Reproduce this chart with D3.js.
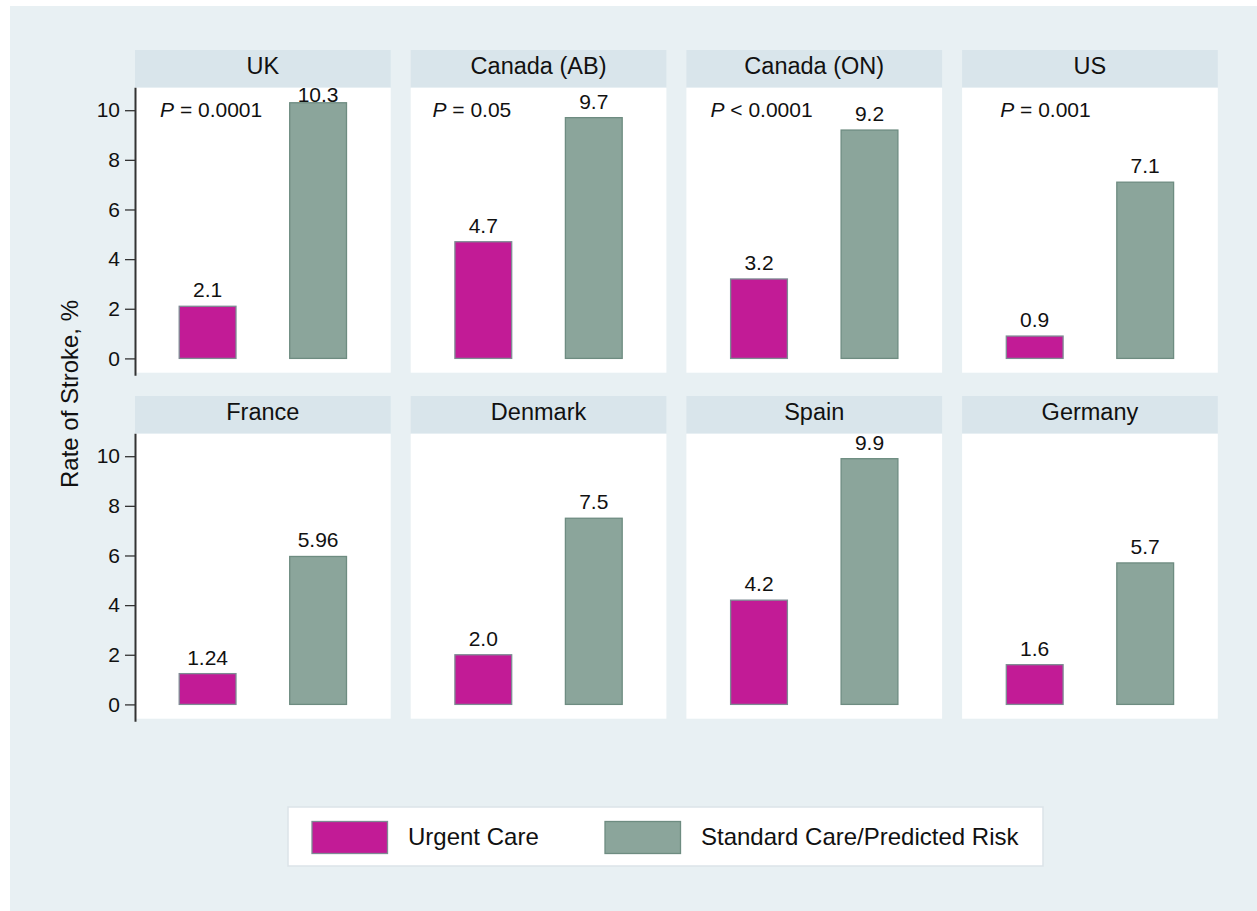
<!DOCTYPE html>
<html>
<head>
<meta charset="utf-8">
<script src="https://cdn.jsdelivr.net/npm/d3@7"></script>
<style>
  html, body { margin: 0; padding: 0; background: #ffffff; }
  svg { display: block; }
  text { font-family: "Liberation Sans", Arial, Helvetica, sans-serif; fill: #111; }
</style>
</head>
<body>
<svg id="chart" width="1257" height="911"></svg>
<script>
// ---- data ----
const countries = ["UK", "Canada (AB)", "Canada (ON)", "US", "France", "Denmark", "Spain", "Germany"];
const urgentCare = [2.1, 4.7, 3.2, 0.9, 1.24, 2.0, 4.2, 1.6];
const standardCare = [10.3, 9.7, 9.2, 7.1, 5.96, 7.5, 9.9, 5.7];
const urgentLabels = ["2.1", "4.7", "3.2", "0.9", "1.24", "2.0", "4.2", "1.6"];
const standardLabels = ["10.3", "9.7", "9.2", "7.1", "5.96", "7.5", "9.9", "5.7"];
const pSign = ["=", "=", "<", "=", null, null, null, null];
const pValue = ["0.0001", "0.05", "0.0001", "0.001", null, null, null, null];
const pAnchor = [0.098, 0.085, 0.094, 0.149, null, null, null, null]; // annotation anchor, fraction of panel width
const seriesNames = ["Urgent Care", "Standard Care/Predicted Risk"];
const yTicks = [0, 2, 4, 6, 8, 10];
const yTitle = "Rate of Stroke, %";

// ---- style / layout ----
const colors = { fill: ["#c21b96", "#8ba59b"], stroke: ["#7d8b93", "#6e8c81"] };
const svg = d3.select("#chart");
const W = 1257, H = 911;

svg.append("rect").attr("x", 10).attr("y", 6).attr("width", W - 10).attr("height", H - 6).attr("fill", "#e8f0f3");

const nCols = 4;
const panelW = 255.7, panelStep = 275.7, left0 = 135;
const headerTops = [50, 396], headerH = 37.7, plotH = 285;

const xBand = d3.scaleBand().domain(seriesNames).range([0, panelW]).paddingInner(0.486).paddingOuter(0.4);
const xAnno = d3.scaleLinear().domain([0, 1]).range([0, panelW]);
const yScale = d3.scaleLinear().domain([0, 10]).range([270.7, 22.5]);

countries.forEach((c, i) => {
  const col = i % nCols, row = Math.floor(i / nCols);
  const px = left0 + col * panelStep;
  const hy = headerTops[row];
  const g = svg.append("g").attr("transform", `translate(${px},${hy})`);

  // header strip
  g.append("rect").attr("x", 0).attr("y", 0).attr("width", panelW).attr("height", headerH).attr("fill", "#d9e5eb");
  g.append("text").attr("x", panelW / 2).attr("y", 24).attr("text-anchor", "middle")
    .style("font-size", "23.5px").text(c);

  // plot region
  const p = g.append("g").attr("transform", `translate(0,${headerH})`);
  p.append("rect").attr("x", 0).attr("y", 0).attr("width", panelW).attr("height", plotH).attr("fill", "#ffffff");

  const vals = [urgentCare[i], standardCare[i]];
  const labs = [urgentLabels[i], standardLabels[i]];
  vals.forEach((v, k) => {
    const x = xBand(seriesNames[k]);
    const yt = yScale(v), y0 = yScale(0);
    p.append("rect").attr("x", x).attr("y", yt).attr("width", xBand.bandwidth()).attr("height", y0 - yt)
      .attr("fill", colors.fill[k]).attr("stroke", colors.stroke[k]).attr("stroke-width", 1.3);
    let base = yt - 9;
    if (base - 15 < 0) base = 14.5;
    p.append("text").attr("x", x + xBand.bandwidth() / 2).attr("y", base).attr("text-anchor", "middle")
      .style("font-size", "21px").text(labs[k]);
  });

  if (pValue[i]) {
    const t = p.append("text").attr("x", xAnno(pAnchor[i])).attr("y", 29).style("font-size", "21px");
    t.append("tspan").style("font-style", "italic").text("P");
    t.append("tspan").text(" " + pSign[i] + " " + pValue[i]);
  }

  if (col === 0) {
    const ax = p.append("g").call(d3.axisLeft(yScale).tickValues(yTicks).tickSize(10).tickPadding(5).tickFormat(d3.format("d")));
    ax.select(".domain").remove();
    ax.selectAll(".tick line").attr("stroke", "#333").attr("stroke-width", 1.3);
    ax.selectAll(".tick text").style("font-size", "21px").style("font-family", "Liberation Sans, Arial, sans-serif").attr("fill", "#111");
    p.append("line").attr("x1", 0.5).attr("x2", 0.5).attr("y1", 0).attr("y2", plotH + 3)
      .attr("stroke", "#333").attr("stroke-width", 2);
  }
});

// y title
svg.append("text").attr("transform", "translate(78,394) rotate(-90)").attr("text-anchor", "middle")
  .style("font-size", "24px").text(yTitle);

// legend
const lg = svg.append("g");
lg.append("rect").attr("x", 288).attr("y", 807).attr("width", 755).attr("height", 59)
  .attr("fill", "#ffffff").attr("stroke", "#dbe3e9").attr("stroke-width", 1.5);
const legendX = [312, 605];
seriesNames.forEach((s, k) => {
  lg.append("rect").attr("x", legendX[k]).attr("y", 821.5).attr("width", 75.5).attr("height", 32)
    .attr("fill", colors.fill[k]).attr("stroke", colors.stroke[k]).attr("stroke-width", 1.3);
  lg.append("text").attr("x", legendX[k] + 96).attr("y", 845).style("font-size", "24px").text(s);
});
</script>
</body>
</html>
